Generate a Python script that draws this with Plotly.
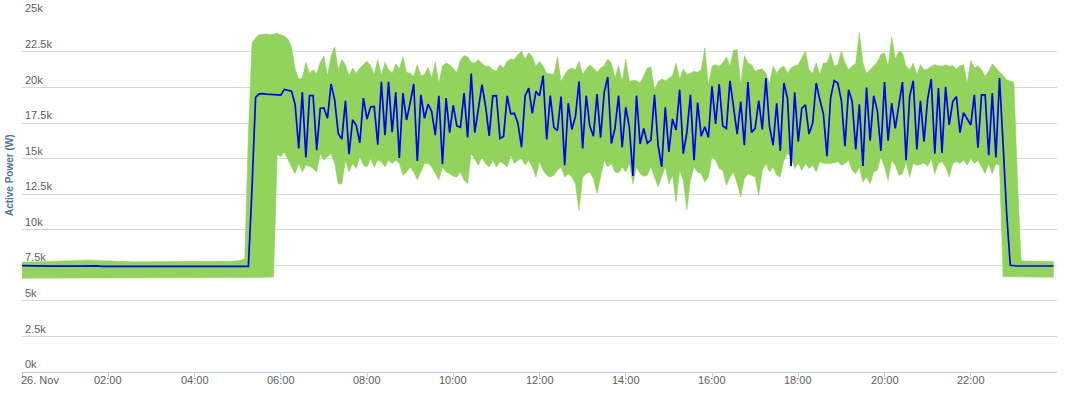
import pandas as pd
import plotly.graph_objects as go

# Active power, 5-minute steps on 26 Nov (one row = one hour, 12 values)
line_power = [
    7470, 7460, 7460, 7450, 7450, 7440, 7450, 7440, 7440, 7440, 7430, 7440,
    7430, 7440, 7440, 7440, 7450, 7460, 7470, 7480, 7480, 7460, 7430, 7420,
    7420, 7420, 7430, 7420, 7420, 7430, 7430, 7420, 7420, 7420, 7430, 7420,
    7420, 7410, 7420, 7430, 7420, 7420, 7410, 7410, 7420, 7410, 7410, 7400,
    7400, 7410, 7400, 7400, 7400, 7410, 7420, 7430, 7420, 7420, 7420, 7430,
    7420, 7420, 7420, 7430, 12900, 19300, 19550, 19570, 19530, 19500, 19480, 19470,
    19460, 19860, 19800, 19740, 18800, 15710, 19650, 15070, 19430, 19430, 15590, 18540,
    18560, 17830, 20240, 19130, 16770, 16370, 19060, 15310, 17740, 17340, 16110, 19250,
    17780, 18630, 18660, 15970, 20400, 16650, 20400, 16860, 19650, 15050, 19600, 17710,
    18900, 20240, 14840, 19480, 17830, 18820, 18300, 16650, 19410, 14600, 19250, 16820,
    18750, 17290, 17190, 19600, 16490, 20970, 16820, 18420, 20190, 18660, 16600, 19410,
    19430, 16420, 16560, 19410, 18140, 18180, 17480, 15800, 19410, 19950, 18180, 19720,
    19410, 20830, 16350, 19430, 17190, 16960, 19360, 14530, 18890, 17050, 17950, 20420,
    15710, 19430, 17290, 16580, 19530, 16460, 19650, 20730, 16060, 17120, 19430, 15780,
    18610, 17190, 13780, 19430, 16020, 17120, 16080, 16300, 19480, 15940, 14410, 18610,
    15470, 17780, 17010, 19840, 15350, 16820, 19480, 14880, 18940, 16580, 17240, 16490,
    20070, 17430, 20240, 17290, 17120, 20470, 18770, 16720, 19010, 15940, 20380, 16840,
    17120, 19080, 17050, 20660, 17240, 15940, 18890, 15540, 20310, 19250, 14460, 19650,
    16180, 18540, 18770, 16720, 17480, 20310, 19130, 18140, 15170, 19250, 20470, 20310,
    19080, 15870, 19840, 19010, 15640, 18820, 14480, 20000, 16250, 19410, 18370, 15540,
    20380, 16250, 18890, 17120, 18770, 20380, 14880, 19360, 20470, 15640, 19060, 16180,
    19180, 20590, 15350, 19950, 15400, 20020, 17360, 19010, 19360, 16820, 18230, 17760,
    17360, 19480, 15760, 19480, 19480, 15240, 19600, 15070, 20660, 16000, 11100, 7500,
    7460, 7450, 7450, 7450, 7460, 7450, 7450, 7450, 7450, 7460, 7450, 7450,
]

band_high = [
    7720, 7730, 7740, 7750, 7750, 7760, 7760, 7770, 7780, 7790, 7800, 7810,
    7810, 7820, 7830, 7830, 7840, 7850, 7860, 7860, 7850, 7830, 7800, 7780,
    7770, 7760, 7760, 7760, 7750, 7750, 7750, 7740, 7740, 7740, 7740, 7740,
    7740, 7740, 7740, 7750, 7750, 7750, 7750, 7750, 7760, 7760, 7760, 7760,
    7760, 7760, 7770, 7770, 7770, 7780, 7780, 7780, 7790, 7790, 7790, 7800,
    7800, 7850, 7980, 16800, 23100, 23500, 23700, 23750, 23750, 23700, 23750, 23800,
    23700, 23600, 23400, 22850, 21300, 20600, 20660, 21770, 21000, 21250, 20970, 21770,
    22200, 20830, 22200, 22850, 21250, 21960, 21600, 20830, 21370, 21000, 21370, 21600,
    21840, 21530, 20900, 21960, 20830, 21770, 21250, 21000, 21660, 21310, 22150, 21060,
    21000, 20780, 21600, 20830, 20900, 21420, 20660, 21770, 20310, 21490, 21720, 21600,
    21300, 21060, 21910, 22240, 22150, 21770, 21720, 21960, 21670, 21490, 21490, 21250,
    21130, 21600, 21370, 21840, 22000, 21960, 22310, 22520, 22000, 22430, 22150, 21490,
    21840, 21490, 21000, 20970, 20900, 22150, 20420, 20900, 21250, 21370, 21250, 21840,
    20900, 21300, 21600, 21370, 21060, 21370, 21530, 22000, 21720, 20660, 21530, 20420,
    22000, 20420, 20500, 20470, 20310, 20840, 21370, 21440, 19840, 20420, 20590, 20470,
    20660, 20830, 21720, 20590, 21300, 20900, 21000, 21130, 21060, 21250, 22780, 20190,
    21490, 21600, 21490, 21720, 22150, 21490, 22600, 22660, 20190, 22240, 21720, 21600,
    21130, 21250, 21300, 21000, 20250, 21490, 21000, 21370, 21490, 21000, 21370, 21530,
    21600, 22080, 22550, 21250, 21000, 21720, 20900, 21720, 21720, 22430, 21490, 21600,
    22550, 21720, 21250, 21490, 21720, 23840, 21720, 21000, 21250, 21490, 21770, 22310,
    22430, 21490, 23560, 22000, 22550, 22430, 21490, 21250, 21720, 20900, 21600, 21250,
    21300, 21490, 21600, 21530, 21490, 21600, 21490, 21530, 21300, 21530, 21600, 20310,
    21910, 21370, 21530, 21250, 20780, 21130, 21670, 21370, 21130, 20830, 20540, 20420,
    20350, 13500, 7820, 7800, 7790, 7790, 7780, 7780, 7770, 7770, 7760, 7760,
]

band_low = [
    6580, 6590, 6600, 6610, 6610, 6620, 6620, 6620, 6620, 6620, 6620, 6630,
    6630, 6630, 6630, 6630, 6630, 6630, 6630, 6640, 6640, 6640, 6640, 6640,
    6640, 6640, 6640, 6640, 6640, 6640, 6640, 6640, 6640, 6640, 6640, 6640,
    6640, 6640, 6640, 6640, 6640, 6640, 6640, 6640, 6640, 6640, 6640, 6640,
    6640, 6640, 6640, 6640, 6640, 6640, 6640, 6640, 6640, 6640, 6640, 6640,
    6640, 6640, 6640, 6650, 6650, 6650, 6660, 6660, 6660, 6660, 6670, 15300,
    15120, 15470, 15000, 14410, 13940, 14650, 14060, 14530, 14460, 14300, 14060, 15350,
    14880, 15120, 15350, 14650, 13230, 13230, 14880, 14060, 14650, 14300, 15120, 14530,
    14410, 15000, 14410, 14880, 14770, 14410, 14880, 14650, 14880, 14650, 13820, 14060,
    14410, 14060, 13520, 14060, 14650, 14650, 14410, 13990, 13520, 14410, 14060, 13940,
    13750, 13700, 14060, 13470, 13230, 15350, 14930, 14530, 15070, 14650, 14410, 14880,
    14410, 14770, 14650, 14410, 15240, 14650, 14880, 15000, 14530, 14880, 14410, 13700,
    14770, 14180, 13820, 13700, 13820, 14180, 14410, 13700, 13940, 13700, 13230, 11350,
    13700, 13940, 14060, 13590, 12530, 13700, 14880, 14410, 14650, 14060, 13990, 14410,
    14060, 14650, 13230, 14410, 13940, 13760, 13820, 14410, 13700, 13000, 13700, 14410,
    13230, 13820, 11940, 14180, 13470, 11400, 13470, 14410, 14060, 13940, 13350, 13700,
    15120, 14880, 14300, 14180, 13120, 13700, 14060, 13230, 12290, 13590, 13940, 13820,
    13700, 12410, 14180, 14650, 14060, 14400, 13820, 13700, 14880, 15350, 15120, 14300,
    14650, 14180, 14650, 14300, 14530, 14060, 14770, 14650, 14650, 14650, 14700, 14770,
    14530, 14650, 14880, 14180, 13940, 14410, 13350, 13700, 13230, 14060, 14180, 15120,
    14410, 13470, 14880, 14530, 13820, 13940, 14770, 13700, 14650, 14530, 14580, 14700,
    14460, 15000, 13940, 14650, 14770, 14410, 13700, 14650, 14770, 14650, 14880, 14530,
    15000, 14650, 14880, 14410, 13940, 14650, 13940, 14650, 14530, 6700, 6650, 6650,
    6650, 6650, 6660, 6660, 6660, 6660, 6660, 6660, 6660, 6660, 6660, 6660,
]

y_tick_values = [0, 2500, 5000, 7500, 10000, 12500, 15000, 17500, 20000, 22500, 25000]
y_tick_labels = ["0k", "2.5k", "5k", "7.5k", "10k", "12.5k", "15k", "17.5k", "20k", "22.5k", "25k"]
x_tick_labels = ["26. Nov", "02:00", "04:00", "06:00", "08:00", "10:00",
                 "12:00", "14:00", "16:00", "18:00", "20:00", "22:00"]

start = pd.Timestamp("2015-11-26 00:00")
times = list(pd.date_range(start, periods=len(line_power), freq="5min"))
x_ticks = list(pd.date_range(start, periods=len(x_tick_labels), freq="2h"))

FONT = "Liberation Sans, Arial, sans-serif"
LABEL_FONT = dict(family=FONT, size=11, color="#606060")

fig = go.Figure()
fig.add_trace(go.Scatter(
    x=times + times[::-1],
    y=band_high + band_low[::-1],
    fill="toself",
    fillcolor="rgb(146,211,94)",
    line=dict(width=0.5, color="rgb(140,205,88)"),
    mode="lines",
    hoverinfo="skip",
    showlegend=False,
))
fig.add_trace(go.Scatter(
    x=times, y=line_power, mode="lines",
    line=dict(color="#0000f0", width=1.7),
    showlegend=False,
))

fig.update_layout(
    width=1067, height=393, autosize=False,
    margin=dict(l=22, r=10, t=16, b=21, autoexpand=False),
    paper_bgcolor="white", plot_bgcolor="white",
    font=dict(family=FONT, size=11, color="#606060"),
    hovermode=False,
    showlegend=False,
)
fig.update_xaxes(
    range=[start, start + pd.Timedelta(hours=24)],
    tickvals=x_ticks,
    showticklabels=False,
    showgrid=False, zeroline=False,
    showline=True, linecolor="#C0D0E0", linewidth=1,
    ticks="outside", ticklen=4, tickcolor="#C0D0E0",
    automargin=False,
)
fig.update_yaxes(
    range=[0, 25020],
    tickvals=y_tick_values, ticktext=y_tick_labels,
    ticklabelposition="inside top",
    ticklabeloverflow="allow",
    showgrid=True, gridcolor="#d8d8d8", gridwidth=1,
    zeroline=False, showline=False,
    tickfont=LABEL_FONT,
    automargin=False,
)
for i, (tv, tt) in enumerate(zip(x_ticks, x_tick_labels)):
    fig.add_annotation(
        x=tv, y=0, xref="x", yref="paper",
        text=tt, showarrow=False,
        xanchor="left" if i == 0 else "center", yanchor="middle",
        yshift=-8, xshift=-3 if i == 0 else 0,
        font=LABEL_FONT,
    )
fig.add_annotation(
    x=-0.0126, y=0.553, xref="paper", yref="paper",
    text="<b>Active Power (W)</b>", showarrow=False, textangle=-90,
    xanchor="center", yanchor="middle",
    font=dict(family=FONT, size=10, color="#4d759e"),
)

fig.write_html("out.html")
